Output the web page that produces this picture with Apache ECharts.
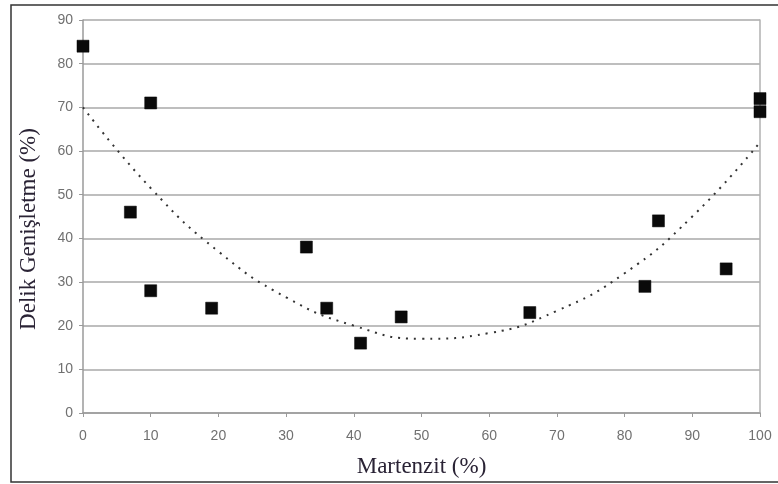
<!DOCTYPE html>
<html>
<head>
<meta charset="utf-8">
<script src="https://cdn.jsdelivr.net/npm/echarts@6/dist/echarts.min.js"></script>
<style>
html,body{margin:0;padding:0;background:#fff;}
#c{width:778px;height:484px;}
</style>
</head>
<body>
<div id="c"></div>
<script>
// Data
var martenzitX = [0, 10, 7, 10, 19, 33, 36, 41, 47, 66, 83, 85, 95, 100, 100];
var delikY     = [84, 71, 46, 28, 24, 38, 24, 16, 22, 23, 29, 44, 33, 72, 69];
// Trend line (dotted) read at x = 0,10,...,100
var trendX = [0, 10, 20, 30, 40, 50, 60, 70, 80, 90, 100];
var trendY = [70, 51.5, 37, 26.5, 20, 17, 18.3, 23.4, 32, 45, 62];
var xTicks = [0, 10, 20, 30, 40, 50, 60, 70, 80, 90, 100];
var yTicks = [0, 10, 20, 30, 40, 50, 60, 70, 80, 90];
var xTitle = 'Martenzit (%)';
var yTitle = 'Delik Genişletme (%)';

var scatterData = martenzitX.map(function (x, i) { return [x, delikY[i]]; });
var trendData = trendX.map(function (x, i) { return [x, trendY[i]]; });

var chart = echarts.init(document.getElementById('c'), null, {renderer: 'canvas'});
var tickFont = {color: '#707070', fontSize: 14, fontFamily: 'Liberation Sans, Arial, sans-serif'};
var titleFont = {color: '#2a2335', fontSize: 23, fontFamily: 'Liberation Serif, Times New Roman, serif'};
chart.setOption({
  animation: false,
  backgroundColor: '#fff',
  grid: {left: 83, right: 18, top: 20, bottom: 71, containLabel: false, outerBoundsMode: 'none'},
  graphic: [{
    type: 'rect',
    shape: {x: 11, y: 5, width: 780, height: 477},
    style: {fill: 'none', stroke: '#333', lineWidth: 1.5},
    silent: true
  }, {
    type: 'text',
    x: 29, y: 229,
    rotation: Math.PI / 2,
    style: {
      text: yTitle,
      fill: titleFont.color,
      font: '23px "Liberation Serif", "Times New Roman", serif',
      textAlign: 'center',
      textVerticalAlign: 'middle'
    },
    silent: true
  }],
  xAxis: {
    type: 'value', min: 0, max: 100, interval: 10,
    name: xTitle, nameLocation: 'middle', nameGap: 42,
    nameTextStyle: titleFont,
    axisLine: {show: true, lineStyle: {color: '#9a9a9a', width: 1.5}},
    axisTick: {show: true, length: 4, lineStyle: {color: '#9a9a9a'}},
    axisLabel: Object.assign({margin: 16, formatter: function (v) { return xTicks.indexOf(v) >= 0 ? String(v) : ''; }}, tickFont),
    splitLine: {show: false}
  },
  yAxis: [{
    type: 'value', min: 0, max: 90, interval: 10,
    axisLine: {show: true, lineStyle: {color: '#9a9a9a', width: 1.5}},
    axisTick: {show: true, length: 4, lineStyle: {color: '#9a9a9a'}},
    axisLabel: Object.assign({margin: 10, formatter: function (v) { return yTicks.indexOf(v) >= 0 ? String(v) : ''; }}, tickFont),
    splitLine: {show: true, lineStyle: {color: '#a8a8a8', width: 1.5}}
  }, {
    type: 'value', min: 0, max: 90, interval: 10, position: 'right',
    axisLine: {show: true, lineStyle: {color: '#b0b0b0', width: 1.5}},
    axisTick: {show: false}, axisLabel: {show: false}, splitLine: {show: false}
  }],
  series: [{
    type: 'line',
    data: trendData,
    smooth: true,
    showSymbol: false,
    z: 2,
    lineStyle: {color: '#333', width: 2, type: [2, 6]}
  }, {
    type: 'scatter',
    data: scatterData,
    symbol: 'rect',
    symbolSize: 12,
    z: 3,
    itemStyle: {color: '#0a0a0a', opacity: 1, borderColor: '#000', borderWidth: 0.5}
  }]
});
</script>
</body>
</html>
